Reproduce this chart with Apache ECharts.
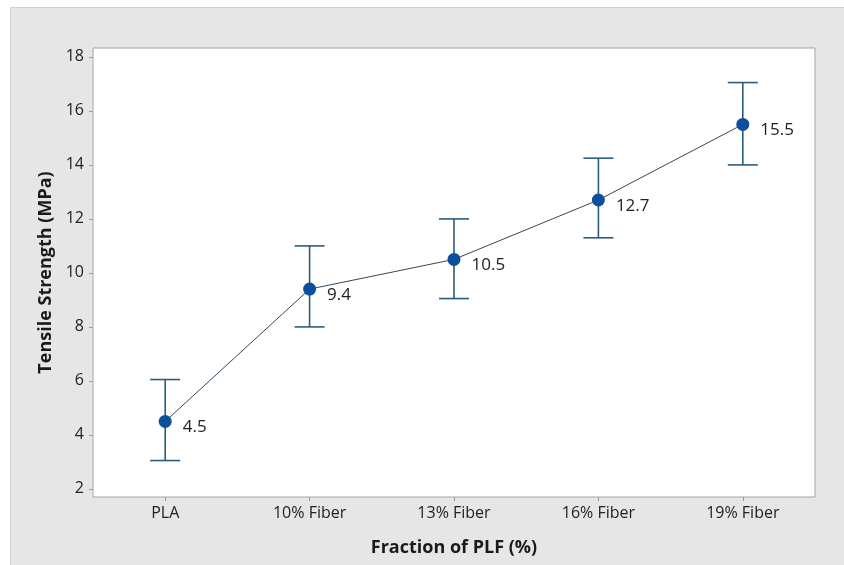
<!DOCTYPE html>
<html>
<head>
<meta charset="utf-8">
<script src="https://cdn.jsdelivr.net/npm/echarts@6/dist/echarts.min.js"></script>
<style>
  html, body { margin: 0; padding: 0; background: #ffffff; }
  #wrap { position: relative; width: 844px; height: 565px; overflow: hidden; }
  #panel { position: absolute; left: 10px; top: 7px; width: 840px; height: 570px;
           background: #e6e6e6; border-top: 1px solid #d2d2d2; border-left: 1px solid #d2d2d2; }
  #chart { position: absolute; left: 0; top: 0; width: 844px; height: 565px; }
</style>
</head>
<body>
<div id="wrap">
  <div id="panel"></div>
  <div id="chart"></div>
</div>
<script>
// Tensile strength of PLA and PLF-fibre composites, mean with error interval
const categories = ['PLA', '10% Fiber', '13% Fiber', '16% Fiber', '19% Fiber'];
const meanStrength = [4.5, 9.4, 10.5, 12.7, 15.5];
const errorLow = [3.05, 8.0, 9.05, 11.3, 14.0];
const errorHigh = [6.05, 11.0, 12.0, 14.25, 17.05];
const yTicks = [2, 4, 6, 8, 10, 12, 14, 16, 18];

const FONT = '"Open Sans", "Noto Sans", sans-serif';
const BAR_COLOR = '#2b5b7e';
const POINT_COLOR = '#0d4f9b';

const chart = echarts.init(document.getElementById('chart'), null, { renderer: 'canvas' });

const errorData = categories.map((c, i) => [i, errorLow[i], errorHigh[i]]);

chart.setOption({
  backgroundColor: 'transparent',
  animation: false,
  grid: {
    left: 93, top: 48, width: 722, height: 449,
    show: true, backgroundColor: '#ffffff', borderColor: '#a3a3a3', borderWidth: 1
  },
  xAxis: {
    type: 'category',
    data: categories,
    boundaryGap: true,
    name: 'Fraction of PLF (%)',
    nameLocation: 'middle',
    nameGap: 42,
    nameTextStyle: { fontFamily: FONT, fontSize: 18, fontWeight: 'bold', color: '#1a1a1a' },
    axisLine: { show: false },
    axisTick: { show: true, alignWithLabel: true, length: 4, lineStyle: { color: '#9a9a9a' } },
    axisLabel: { fontFamily: FONT, fontSize: 16, color: '#222', margin: 8 },
    splitLine: { show: false }
  },
  yAxis: {
    type: 'value',
    min: 1.7,
    max: 18.33,
    name: 'Tensile Strength (MPa)',
    nameLocation: 'middle',
    nameGap: 38,
    nameTextStyle: { fontFamily: FONT, fontSize: 18, fontWeight: 'bold', color: '#1a1a1a' },
    axisLine: { show: false },
    axisTick: { show: true, length: 4, customValues: yTicks, lineStyle: { color: '#9a9a9a' } },
    axisLabel: { fontFamily: FONT, fontSize: 16, color: '#222', margin: 9, customValues: yTicks },
    splitLine: { show: false }
  },
  series: [
    {
      type: 'custom',
      name: 'interval',
      data: errorData,
      z: 2,
      renderItem: function (params, api) {
        const x = api.value(0);
        const lo = api.coord([x, api.value(1)]);
        const hi = api.coord([x, api.value(2)]);
        const half = 15;
        const style = { stroke: BAR_COLOR, lineWidth: 1.6, fill: null };
        return {
          type: 'group',
          children: [
            { type: 'line', shape: { x1: hi[0], y1: hi[1], x2: lo[0], y2: lo[1] }, style: style },
            { type: 'line', shape: { x1: hi[0] - half, y1: hi[1], x2: hi[0] + half, y2: hi[1] }, style: style },
            { type: 'line', shape: { x1: lo[0] - half, y1: lo[1], x2: lo[0] + half, y2: lo[1] }, style: style }
          ]
        };
      }
    },
    {
      type: 'line',
      name: 'mean',
      data: meanStrength,
      z: 3,
      symbol: 'circle',
      symbolSize: 13,
      lineStyle: { color: '#34485a', width: 1 },
      itemStyle: { color: POINT_COLOR },
      label: {
        show: true,
        position: 'right',
        distance: 11,
        offset: [0, 6],
        fontFamily: FONT,
        fontSize: 17,
        color: '#222'
      }
    }
  ]
});
</script>
</body>
</html>
